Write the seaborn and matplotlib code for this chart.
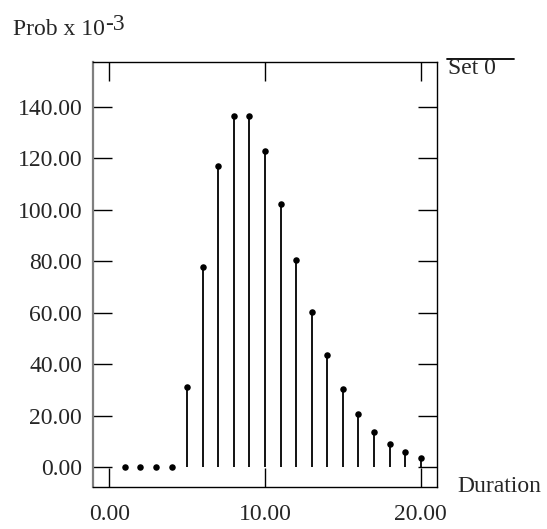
import matplotlib
matplotlib.use("Agg")
import matplotlib.pyplot as plt
from matplotlib.lines import Line2D
import seaborn as sns
import pandas as pd

duration = list(range(1, 21))
prob = [0.0, 0.0, 0.0, 0.0, 31.3, 77.9, 116.9, 136.3, 136.3, 122.8,
        102.3, 80.4, 60.3, 43.6, 30.4, 20.8, 13.9, 9.1, 5.9, 3.8]
xticks = [0, 10, 20]
yticks = [0, 20, 40, 60, 80, 100, 120, 140]
series_name = "Set 0"

sns.set_theme(style="ticks")
plt.rcParams["font.family"] = ["Liberation Serif", "DejaVu Serif"]

df = pd.DataFrame({"Duration": duration, "Prob": prob})

fig = plt.figure(figsize=(5.47, 5.29), dpi=100)
ax = fig.add_axes([0.1706, 0.0800, 0.7984 - 0.1706, 0.8822 - 0.0800])

ax.vlines(df["Duration"], 0, df["Prob"], color="black", linewidth=1.3)
sns.scatterplot(data=df, x="Duration", y="Prob", ax=ax, color="black",
                s=22, edgecolor="black", linewidth=0, legend=False, zorder=3)

ax.set_xlim(-1.03, 21.03)
ax.set_ylim(-7.45, 157.2)
ax.set_xticks(xticks)
ax.set_xticklabels([f"{v:.2f}" for v in xticks])
ax.set_yticks(yticks)
ax.set_yticklabels([f"{v:.2f}" for v in yticks])
ax.set_xlabel("")
ax.set_ylabel("")

FS = 17
ax.tick_params(axis="both", direction="in", length=13.5, width=1.0, color="black",
               labelsize=FS, top=True, right=True)
ax.tick_params(axis="x", pad=12.5)
ax.tick_params(axis="y", pad=8)

for side, sp in ax.spines.items():
    sp.set_visible(True)
    sp.set_color("black")
    sp.set_linewidth(1.0)
ax.spines["left"].set_color("#7f7f7f")
ax.spines["left"].set_linewidth(1.6)

t1 = fig.text(13 / 547, 1 - 35 / 529, "Prob x 10", fontsize=FS, ha="left", va="baseline")
ax.annotate("-3", xy=(1.0, 0.0), xycoords=t1, xytext=(0.5, 7),
            textcoords="offset points", fontsize=FS, ha="left", va="baseline",
            annotation_clip=False)
fig.text(457 / 547, 1 - 487 / 529, "Duration", fontsize=FS, ha="left", va="center")

fig.add_artist(Line2D([447 / 547, 514 / 547], [1 - 59 / 529, 1 - 59 / 529],
                      transform=fig.transFigure, color="black", linewidth=1.3))
fig.text(448 / 547, 1 - 69 / 529, series_name, fontsize=FS, ha="left", va="center")

fig.savefig("out.png", dpi=100)
